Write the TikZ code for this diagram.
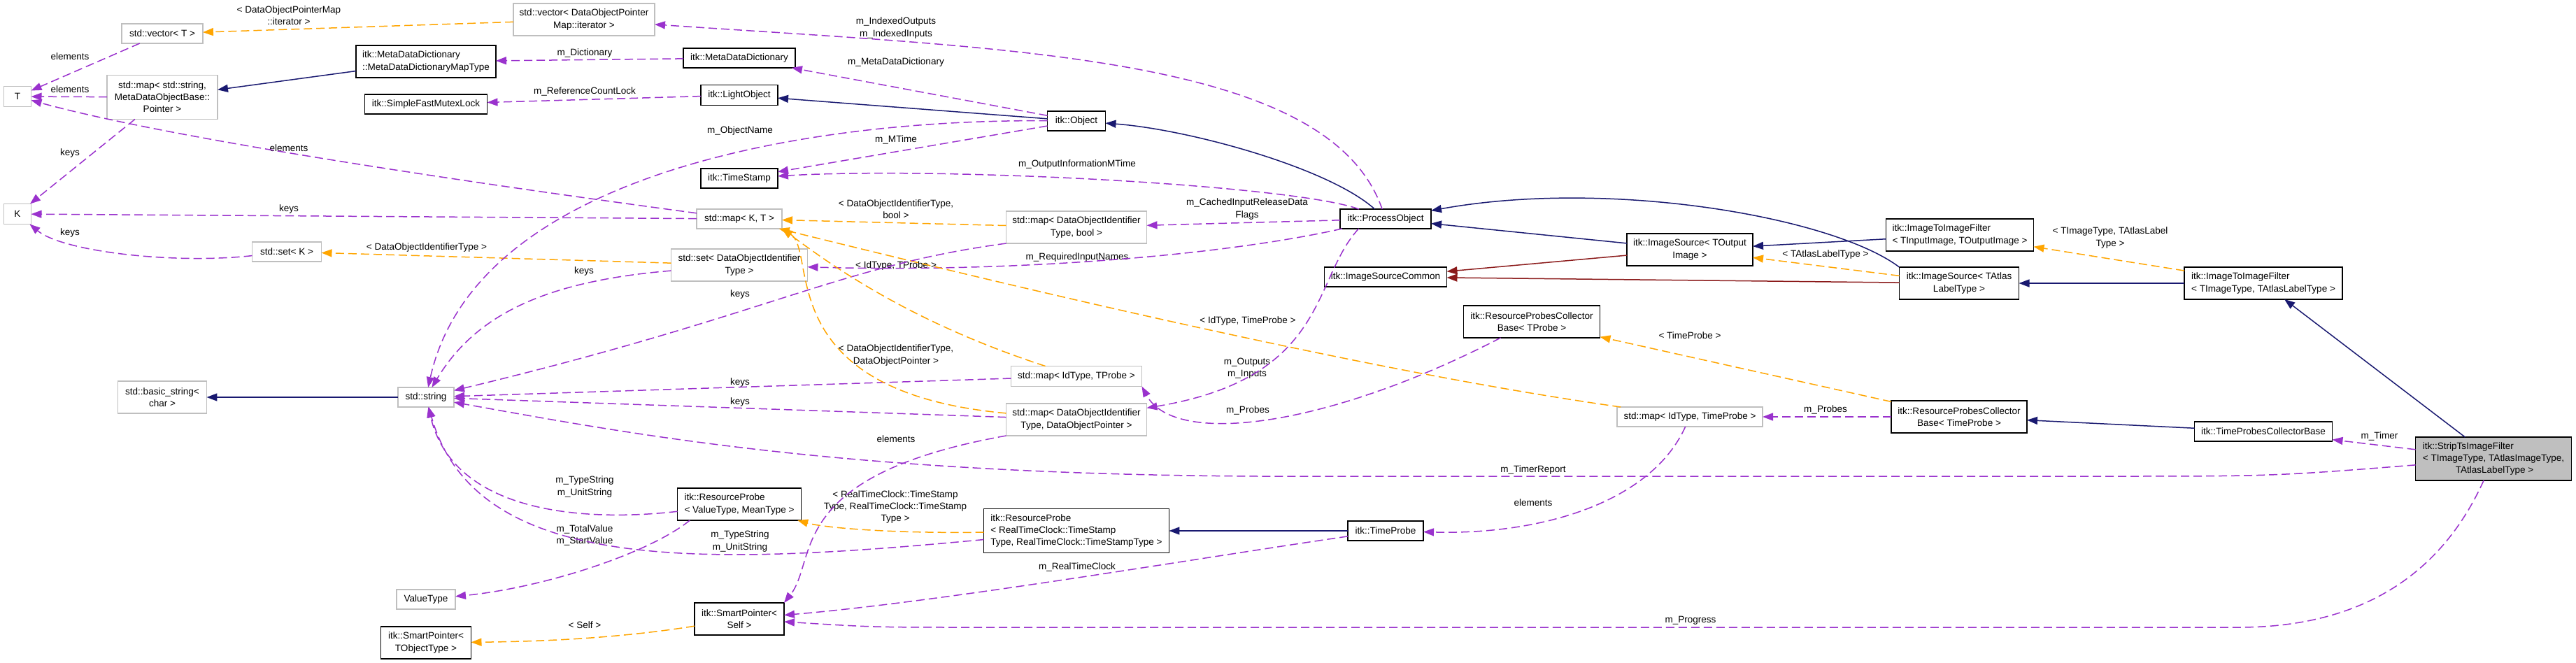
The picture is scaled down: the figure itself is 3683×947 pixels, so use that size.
\documentclass[tikz,border=0pt]{standalone}
\usepackage{fontspec}
\setmainfont{Liberation Sans}
\usetikzlibrary{arrows.meta}
\definecolor{inhblue}{RGB}{25,25,112}
\definecolor{privred}{RGB}{139,26,26}
\definecolor{usepurple}{RGB}{154,50,205}
\definecolor{tmplorange}{RGB}{255,165,0}
\definecolor{undocgray}{RGB}{191,191,191}
\newcommand{\dxfont}{\fontsize{7.7}{9.7}\selectfont}

\begin{document}
\begin{tikzpicture}[x={(0.02cm,0cm)},y={(0cm,-0.02cm)},
  every node/.style={font=\dxfont, inner sep=0pt, outer sep=0pt},
  cls/.style={draw=black, line width=0.03cm, fill=white, align=center, minimum height=0.56cm},
  undoc/.style={cls, draw=undocgray},
  two/.style={minimum height=0.92cm},
  three/.style={minimum height=1.26cm},
  lbl/.style={align=center},
  inh/.style={draw=inhblue, line width=0.03cm, -{Triangle[length=0.3cm,width=0.22cm]}},
  priv/.style={inh, draw=privred},
  use/.style={draw=usepurple, line width=0.03cm, dash pattern=on 0.24cm off 0.12cm, -{Triangle[length=0.3cm,width=0.22cm]}},
  tmpl/.style={use, draw=tmplorange}]

\useasboundingbox (0,0) rectangle (3683,947);

\node[undoc, minimum width=0.78cm, minimum height=0.58cm] (T) at (25,138) {T};
\node[undoc, minimum width=0.78cm, minimum height=0.58cm] (K) at (25,306) {K};
\node[undoc, minimum width=2.32cm] (vecT) at (232,48) {std::vector< T >};
\node[undoc, three, minimum width=3.16cm] (mapStrMeta) at (232,139) {std::map< std::string,\\ MetaDataObjectBase::\\ Pointer >};
\node[undoc, two, minimum width=2.54cm] (basicStr) at (232,568) {std::basic\_string<\\ char >};
\node[undoc, minimum width=1.98cm] (setK) at (410,360) {std::set< K >};
\node[undoc, minimum width=1.6cm] (str) at (609,568) {std::string};
\node[cls, two, align=left, minimum width=4cm] (mdmt) at (609,88) {itk::MetaDataDictionary\\ ::MetaDataDictionaryMapType};
\node[cls, minimum width=3.5cm] (sfml) at (609,149) {itk::SimpleFastMutexLock};
\node[undoc, minimum width=1.68cm] (valType) at (609,857) {ValueType};
\node[cls, two, minimum width=2.58cm] (spTObj) at (609,919) {itk::SmartPointer<\\ TObjectType >};
\node[undoc, two, minimum width=4.04cm] (vecDOP) at (835,28) {std::vector< DataObjectPointer\\ Map::iterator >};
\node[cls, minimum width=3.2cm] (mdd) at (1057,83) {itk::MetaDataDictionary};
\node[cls, minimum width=2.2cm, minimum height=0.58cm] (lightObj) at (1057,136) {itk::LightObject};
\node[cls, minimum width=2.2cm] (timeStamp) at (1057,255) {itk::TimeStamp};
\node[undoc, minimum width=2.44cm] (mapKT) at (1057,313) {std::map< K, T >};
\node[undoc, two, minimum width=3.9cm] (setDOI) at (1057,379) {std::set< DataObjectIdentifier\\ Type >};
\node[cls, two, align=left, minimum width=3.54cm] (rpVM) at (1057,721) {itk::ResourceProbe\\ < ValueType, MeanType >};
\node[cls, two, minimum width=2.56cm] (spSelf) at (1057,885) {itk::SmartPointer<\\ Self >};
\node[cls, minimum width=1.66cm] (object) at (1539,173) {itk::Object};
\node[undoc, two, minimum width=4.02cm] (mapDOIbool) at (1539,325) {std::map< DataObjectIdentifier\\ Type, bool >};
\node[undoc, minimum width=3.74cm, minimum height=0.58cm] (mapIdTProbe) at (1539,538) {std::map< IdType, TProbe >};
\node[undoc, two, minimum width=4.02cm] (mapDOIPtr) at (1539,600) {std::map< DataObjectIdentifier\\ Type, DataObjectPointer >};
\node[cls, three, align=left, minimum width=5.3cm] (rpRTC) at (1539,759) {itk::ResourceProbe\\ < RealTimeClock::TimeStamp\\ Type, RealTimeClock::TimeStampType >};
\node[cls, minimum width=2.6cm] (procObj) at (1981,313) {itk::ProcessObject};
\node[cls, minimum width=3.5cm] (isCommon) at (1981,396) {itk::ImageSourceCommon};
\node[cls, minimum width=2.16cm] (timeProbe) at (1981,759) {itk::TimeProbe};
\node[cls, two, minimum width=3.9cm] (rpcbT) at (2190,460) {itk::ResourceProbesCollector\\ Base< TProbe >};
\node[cls, two, minimum width=3.6cm] (isOut) at (2416,357) {itk::ImageSource< TOutput\\ Image >};
\node[undoc, minimum width=4.16cm] (mapIdTP) at (2416,596) {std::map< IdType, TimeProbe >};
\node[cls, two, align=left, minimum width=4.22cm] (itifIO) at (2802,336) {itk::ImageToImageFilter\\ < TInputImage, TOutputImage >};
\node[cls, two, minimum width=3.42cm] (isLabel) at (2801,405) {itk::ImageSource< TAtlas\\ LabelType >};
\node[cls, two, minimum width=3.88cm] (rpcbTP) at (2801,596) {itk::ResourceProbesCollector\\ Base< TimeProbe >};
\node[cls, two, align=left, minimum width=4.52cm] (itifAtlas) at (3236,405) {itk::ImageToImageFilter\\ < TImageType, TAtlasLabelType >};
\node[cls, minimum width=3.94cm] (tpcb) at (3236,617) {itk::TimeProbesCollectorBase};
\node[cls, fill=undocgray, align=left, minimum width=4.46cm, minimum height=1.24cm] (strip) at (3565,656) {itk::StripTsImageFilter\\ < TImageType, TAtlasImageType,\\ \hspace*{0.94cm}TAtlasLabelType >};

\node[lbl] (lbIter) at (413,22) {< DataObjectPointerMap\\ ::iterator >};
\node[lbl] (lbElemA) at (100,81) {elements};
\node[lbl] (lbElemB) at (100,128) {elements};
\node[lbl] (lbKeysA) at (100,219) {keys};
\node[lbl] (lbElemC) at (413,212) {elements};
\node[lbl] (lbKeysB) at (413,299) {keys};
\node[lbl] (lbKeysC) at (100,333) {keys};
\node[lbl] (lbDOIType) at (610,354) {< DataObjectIdentifierType >};
\node[lbl] (lbKeysD) at (835,388) {keys};
\node[lbl] (lbDict) at (836,76) {m\_Dictionary};
\node[lbl] (lbRefLock) at (836,131) {m\_ReferenceCountLock};
\node[lbl] (lbIndexed) at (1281,40) {m\_IndexedOutputs\\ m\_IndexedInputs};
\node[lbl] (lbMetaDict) at (1281,89) {m\_MetaDataDictionary};
\node[lbl] (lbObjName) at (1058,187) {m\_ObjectName};
\node[lbl] (lbMTime) at (1281,200) {m\_MTime};
\node[lbl] (lbOutInfo) at (1540,235) {m\_OutputInformationMTime};
\node[lbl] (lbDOIBool) at (1281,299) {< DataObjectIdentifierType,\\ bool >};
\node[lbl] (lbCached) at (1783,299) {m\_CachedInputReleaseData\\ Flags};
\node[lbl] (lbReqNames) at (1540,368) {m\_RequiredInputNames};
\node[lbl] (lbIdTProbe) at (1281,380) {< IdType, TProbe >};
\node[lbl] (lbKeysE) at (1058,421) {keys};
\node[lbl] (lbIdTimeProbe) at (1784,459) {< IdType, TimeProbe >};
\node[lbl] (lbDOIPtr) at (1281,508) {< DataObjectIdentifierType,\\ DataObjectPointer >};
\node[lbl] (lbOutputs) at (1783,527) {m\_Outputs\\ m\_Inputs};
\node[lbl] (lbKeysF) at (1058,547) {keys};
\node[lbl] (lbKeysG) at (1058,575) {keys};
\node[lbl] (lbProbesA) at (1784,587) {m\_Probes};
\node[lbl] (lbElemD) at (1281,628) {elements};
\node[lbl] (lbTypeStrA) at (836,696) {m\_TypeString\\ m\_UnitString};
\node[lbl] (lbValues) at (836,765) {m\_TotalValue\\ m\_StartValue};
\node[lbl] (lbRTC) at (1280,725) {< RealTimeClock::TimeStamp\\ Type, RealTimeClock::TimeStamp\\ Type >};
\node[lbl] (lbTypeStrB) at (1058,774) {m\_TypeString\\ m\_UnitString};
\node[lbl] (lbRealClock) at (1540,811) {m\_RealTimeClock};
\node[lbl] (lbSelf) at (836,894) {< Self >};
\node[lbl] (lbReport) at (2192,672) {m\_TimerReport};
\node[lbl] (lbElemE) at (2192,719) {elements};
\node[lbl] (lbProgress) at (2417,887) {m\_Progress};
\node[lbl] (lbAtlasLabel) at (2610,364) {< TAtlasLabelType >};
\node[lbl] (lbTimeProbe) at (2416,480) {< TimeProbe >};
\node[lbl] (lbProbesB) at (2610,586) {m\_Probes};
\node[lbl] (lbImgAtlas) at (3017,340) {< TImageType, TAtlasLabel\\ Type >};
\node[lbl] (lbTimer) at (3402,624) {m\_Timer};

\draw[tmpl] (vecDOP) -- (vecT);
\draw[use] (vecT) -- (T);
\draw[use] (mapStrMeta) -- (T);
\draw[use] (mapStrMeta) -- (K);
\draw[use] (mapKT) .. controls (700,265) and (250,200) .. (T);
\draw[use] (mapKT) -- (K);
\draw[use] (setK) .. controls (250,378) and (90,360) .. (K);
\draw[tmpl] (setDOI) -- (setK);
\draw[use] (setDOI) .. controls (780,402) and (680,450) .. (str);
\draw[inh] (str) -- (basicStr);
\draw[inh] (mdmt) -- (mapStrMeta);
\draw[use] (mdd) -- (mdmt);
\draw[use] (lightObj) -- (sfml);
\draw[inh] (object) -- (lightObj);
\draw[use] (object) -- (mdd);
\draw[use] (object) .. controls (1150,170) and (680,250) .. (str);
\draw[use] (object) -- (timeStamp);
\draw[use] (procObj) .. controls (1850,265) and (1350,238) .. (timeStamp);
\draw[inh] (procObj) .. controls (1900,240) and (1700,185) .. (object);
\draw[use] (procObj) .. controls (1900,80) and (1450,70) .. (vecDOP);
\draw[use] (procObj) -- (mapDOIbool);
\draw[use] (procObj) .. controls (1750,365) and (1450,390) .. (setDOI);
\draw[use] (procObj.200) .. controls (1875,400) and (1900,540) .. (mapDOIPtr);
\draw[inh] (isOut) -- (procObj);
\draw[priv] (isOut) -- (isCommon);
\draw[inh] (isLabel.north west) .. controls (2620,310) and (2300,255) .. (procObj);
\draw[priv] (isLabel) -- (isCommon);
\draw[tmpl] (isLabel) -- (isOut);
\draw[inh] (itifIO) -- (isOut);
\draw[inh] (itifAtlas) -- (isLabel);
\draw[tmpl] (itifAtlas) -- (itifIO);
\draw[inh] (strip) -- (itifAtlas);
\draw[use] (strip) -- (tpcb);
\draw[use] (strip) .. controls (3250,681) .. (3000,681) -- (1800,681) .. controls (1200,678) and (900,620) .. (str);
\draw[inh] (tpcb) -- (rpcbTP);
\draw[tmpl] (rpcbTP) -- (rpcbT);
\draw[use] (rpcbTP) -- (mapIdTP);
\draw[use] (rpcbT) .. controls (1900,610) and (1680,640) .. (mapIdTProbe.south east);
\draw[tmpl] (mapIdTP) .. controls (1950,530) and (1450,410) .. (mapKT);
\draw[use] (mapIdTP) .. controls (2360,720) and (2200,765) .. (timeProbe);
\draw[inh] (timeProbe) -- (rpRTC);
\draw[use] (timeProbe) .. controls (1700,800) and (1350,860) .. (spSelf);
\draw[tmpl] (rpRTC) .. controls (1280,763) and (1180,755) .. (rpVM);
\draw[use] (rpRTC) .. controls (1000,810) and (680,820) .. (str);
\draw[use] (rpVM) .. controls (850,745) and (650,740) .. (str);
\draw[use] (rpVM.198) .. controls (930,790) and (780,840) .. (valType);
\draw[tmpl] (mapDOIbool) -- (mapKT);
\draw[use] (mapDOIbool.south west) .. controls (1200,380) and (1100,450) .. (str);
\draw[use] (mapIdTProbe) -- (str);
\draw[use] (mapDOIPtr) -- (str);
\draw[tmpl] (mapDOIPtr) .. controls (1100,560) and (1170,360) .. (mapKT.south east);
\draw[tmpl] (mapIdTProbe) .. controls (1300,460) and (1190,380) .. (mapKT.south east);
\draw[use] (mapDOIPtr.south west) .. controls (1120,680) and (1170,800) .. (spSelf.north east);
\draw[use] (strip) .. controls (3500,800) and (3400,897) .. (3200,897) -- (1400,897) .. controls (1250,897) .. (spSelf);
\draw[tmpl] (spSelf) .. controls (900,910) and (800,917) .. (spTObj);
\end{tikzpicture}
\end{document}
